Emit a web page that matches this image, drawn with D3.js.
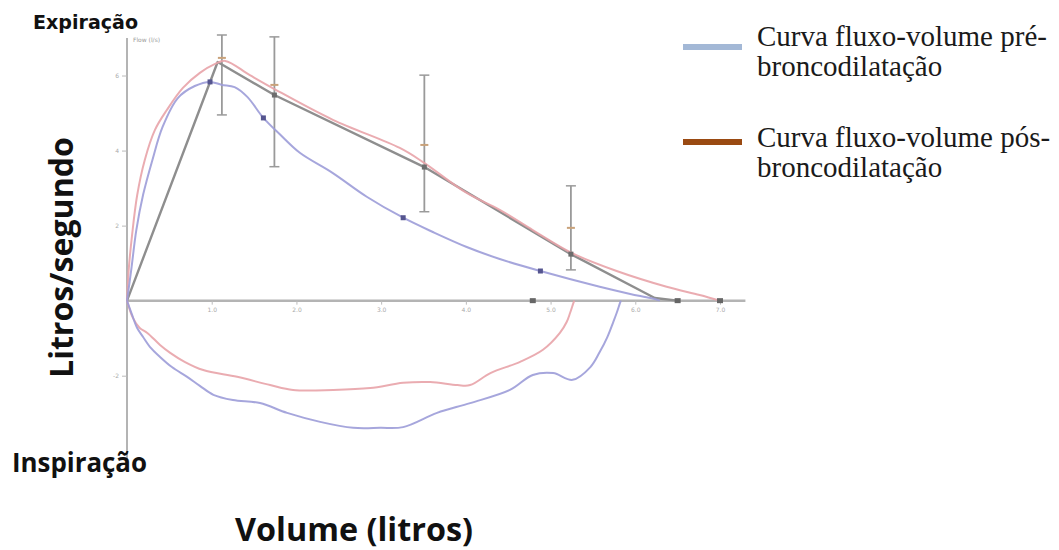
<!DOCTYPE html>
<html><head><meta charset="utf-8">
<script src="https://cdn.jsdelivr.net/npm/d3@7"></script>
<style>html,body{margin:0;padding:0;background:#fff;} svg{display:block;}</style>
</head><body>
<svg id="chart" width="1059" height="550"></svg>
<script>
// ---- data (volume in litres, flow in litres/second) ----
const xTicks = [1, 2, 3, 4, 5, 6, 7];
const xTickLabels = ["1.0", "2.0", "3.0", "4.0", "5.0", "6.0", "7.0"];
const yTicks = [-2, 2, 4, 6];
const yTickLabels = ["-2", "2", "4", "6"];

// pre-bronchodilator (blue)
const preExpVolume = [0,0.05,0.11,0.19,0.30,0.42,0.60,0.80,0.98,1.12,1.27,1.42,1.61,1.81,2.04,2.43,2.83,3.26,3.61,4.01,4.40,4.88,5.58,5.94,6.18,6.29];
const preExpFlow   = [0,0.82,1.88,2.82,3.75,4.63,5.40,5.72,5.83,5.75,5.69,5.43,4.87,4.42,3.94,3.40,2.77,2.21,1.83,1.43,1.11,0.79,0.37,0.18,0.07,0];
const preInsVolume = [0,0.06,0.12,0.19,0.27,0.39,0.53,0.71,0.86,1.02,1.25,1.57,1.89,2.28,2.67,2.99,3.26,3.66,4.05,4.52,4.79,5.03,5.26,5.47,5.58,5.67,5.74,5.78,5.82,5.83];
const preInsFlow   = [0,-0.38,-0.73,-0.97,-1.23,-1.50,-1.77,-2.03,-2.27,-2.51,-2.65,-2.73,-2.99,-3.23,-3.39,-3.39,-3.37,-2.99,-2.73,-2.38,-1.98,-1.93,-2.11,-1.77,-1.37,-0.97,-0.57,-0.33,-0.06,0];
const preMarkVolume = [0.98, 1.61, 3.26, 4.88];
const preMarkFlow   = [5.83, 4.87, 2.21, 0.79];

// post-bronchodilator (red)
const postExpVolume = [0,0.02,0.06,0.12,0.21,0.33,0.47,0.66,0.86,1.04,1.16,1.45,1.74,2.43,3.22,3.49,4.01,4.40,4.79,5.25,5.78,6.37,6.76,7.00];
const postExpFlow   = [0,0.82,1.75,2.81,3.75,4.55,5.08,5.67,6.07,6.31,6.39,6.01,5.64,4.82,4.07,3.70,2.87,2.42,1.88,1.27,0.79,0.37,0.15,0];
const postInsVolume = [0,0.07,0.15,0.24,0.39,0.51,0.68,0.90,1.30,1.69,1.96,2.43,2.87,3.26,3.58,3.90,4.05,4.29,4.64,4.91,5.11,5.19,5.23,5.27,5.28];
const postInsFlow   = [0,-0.46,-0.73,-0.86,-1.18,-1.39,-1.63,-1.85,-2.03,-2.25,-2.38,-2.38,-2.33,-2.19,-2.17,-2.25,-2.25,-1.93,-1.63,-1.31,-0.86,-0.57,-0.33,-0.06,0];

// predicted (grey) with error bars
const predVolume = [0, 1.07, 1.74, 3.51, 5.24, 6.23, 6.50];
const predFlow   = [0, 6.36, 5.48, 3.56, 1.24, 0.07, 0];
const ebVolume = [1.12, 1.74, 3.51, 5.24];
const ebMean   = [6.47, 5.75, 4.15, 1.94];
const ebLow    = [4.95, 3.57, 2.37, 0.82];
const ebHigh   = [7.08, 7.03, 6.01, 3.06];
const axisMarkVolume = [4.79, 6.50, 7.00];

const legendLabels = [["Curva fluxo-volume pré-", "broncodilatação"], ["Curva fluxo-volume pós-", "broncodilatação"]];

// ---- drawing ----
const svg = d3.select("#chart");
svg.append("rect").attr("width", 1059).attr("height", 550).attr("fill", "#fff");

const x = d3.scaleLinear().domain([0, 7]).range([127, 720]);
const y = d3.scaleLinear().domain([-4.3, 7]).range([462, 38]);
const zip = (a, b) => a.map((v, i) => [v, b[i]]);

// axes
const g = svg.append("g");
g.append("line").attr("x1", x(0)).attr("x2", x(7.3)).attr("y1", y(0)).attr("y2", y(0))
  .attr("stroke", "#b4b4b4").attr("stroke-width", 2.5);
g.append("line").attr("x1", x(0)).attr("x2", x(0)).attr("y1", y(7)).attr("y2", y(-4.3))
  .attr("stroke", "#b4b4b4").attr("stroke-width", 2);

const xAxis = d3.axisBottom(x).tickValues(xTicks).tickSize(4).tickFormat((d, i) => xTickLabels[i]);
const xg = g.append("g").attr("transform", `translate(0,${y(0)})`).call(xAxis);
xg.select(".domain").remove();
xg.selectAll("line").attr("stroke", "#bbb");
xg.selectAll("text").attr("font-size", 6).attr("fill", "#aaa").attr("font-family", "DejaVu Sans");

const yAxis = d3.axisLeft(y).tickValues(yTicks).tickSize(5).tickFormat((d, i) => yTickLabels[i]);
const yg = g.append("g").attr("transform", `translate(${x(0)},0)`).call(yAxis);
yg.select(".domain").remove();
yg.selectAll("line").attr("stroke", "#bbb");
yg.selectAll("text").attr("font-size", 6).attr("fill", "#aaa").attr("font-family", "DejaVu Sans");

g.append("text").attr("x", x(0) + 6).attr("y", y(6.9)).attr("font-size", 6).attr("fill", "#999")
  .attr("font-family", "DejaVu Sans").text("Flow (l/s)");

const smooth = d3.line().x(d => x(d[0])).y(d => y(d[1])).curve(d3.curveCatmullRom.alpha(0.5));
const straight = d3.line().x(d => x(d[0])).y(d => y(d[1]));

// error bars
const eb = g.append("g");
ebVolume.forEach((v, i) => {
  eb.append("line").attr("x1", x(v)).attr("x2", x(v)).attr("y1", y(ebLow[i])).attr("y2", y(ebHigh[i]))
    .attr("stroke", "#9a9a9a").attr("stroke-width", 1.8);
  [ebLow[i], ebHigh[i]].forEach(t => eb.append("line").attr("x1", x(v) - 5).attr("x2", x(v) + 5)
    .attr("y1", y(t)).attr("y2", y(t)).attr("stroke", "#9a9a9a").attr("stroke-width", 1.5));
  eb.append("line").attr("x1", x(v) - 4).attr("x2", x(v) + 4).attr("y1", y(ebMean[i])).attr("y2", y(ebMean[i]))
    .attr("stroke", "#c9a27a").attr("stroke-width", 2);
});

// predicted line
g.append("path").attr("d", straight(zip(predVolume, predFlow))).attr("fill", "none")
  .attr("stroke", "#8e8e8e").attr("stroke-width", 2.4).attr("stroke-linejoin", "round");

// post curves (pink)
[[postExpVolume, postExpFlow], [postInsVolume, postInsFlow]].forEach(([a, b]) =>
  g.append("path").attr("d", smooth(zip(a, b))).attr("fill", "none")
    .attr("stroke", "#e8a3a8").attr("stroke-width", 2).attr("stroke-opacity", 0.9));

// pre curves (blue)
[[preExpVolume, preExpFlow], [preInsVolume, preInsFlow]].forEach(([a, b]) =>
  g.append("path").attr("d", smooth(zip(a, b))).attr("fill", "none")
    .attr("stroke", "#9c9cd8").attr("stroke-width", 2).attr("stroke-opacity", 0.9));

// markers
g.selectAll(".pm").data(zip(preMarkVolume, preMarkFlow)).enter().append("rect")
  .attr("x", d => x(d[0]) - 2.5).attr("y", d => y(d[1]) - 2.5).attr("width", 5).attr("height", 5)
  .attr("fill", "#55558f");
g.selectAll(".gm").data(zip(predVolume.slice(2, 5), predFlow.slice(2, 5))).enter().append("rect")
  .attr("x", d => x(d[0]) - 2.5).attr("y", d => y(d[1]) - 2.5).attr("width", 5).attr("height", 5)
  .attr("fill", "#6d6d6d");
g.selectAll(".am").data(axisMarkVolume).enter().append("rect")
  .attr("x", d => x(d) - 3).attr("y", y(0) - 2.5).attr("width", 6).attr("height", 5)
  .attr("fill", "#666");

// side labels
svg.append("text").attr("x", 33).attr("y", 29).attr("font-family", "DejaVu Sans").attr("font-weight", "bold")
  .attr("font-size", 19).attr("textLength", 105).attr("lengthAdjust", "spacingAndGlyphs")
  .attr("fill", "#111").text("Expiração");
svg.append("text").attr("x", 12).attr("y", 472).attr("font-family", "Open Sans").attr("font-weight", "bold")
  .attr("font-size", 26).attr("textLength", 135).attr("lengthAdjust", "spacingAndGlyphs")
  .attr("fill", "#111").text("Inspiração");
svg.append("text").attr("x", 235).attr("y", 541).attr("font-family", "Open Sans").attr("font-weight", "bold")
  .attr("font-size", 33).attr("textLength", 238).attr("lengthAdjust", "spacingAndGlyphs")
  .attr("fill", "#111").text("Volume (litros)");
svg.append("text").attr("transform", "translate(73,378) rotate(-90)").attr("font-family", "Open Sans")
  .attr("font-weight", "bold").attr("font-size", 33).attr("textLength", 241).attr("lengthAdjust", "spacingAndGlyphs")
  .attr("fill", "#111").text("Litros/segundo");

// legend
const legColors = ["#a3b8d6", "#9a4a12"];
const legY = [47, 142];
const legBase = [[46, 76], [147, 177]];
legendLabels.forEach((lines, i) => {
  svg.append("line").attr("x1", 683).attr("x2", 742).attr("y1", legY[i]).attr("y2", legY[i])
    .attr("stroke", legColors[i]).attr("stroke-width", 6);
  lines.forEach((t, j) => svg.append("text").attr("x", 757).attr("y", legBase[i][j])
    .attr("font-family", "Liberation Serif").attr("font-size", 29).attr("fill", "#1a1a1a").text(t));
});
</script>
</body></html>
